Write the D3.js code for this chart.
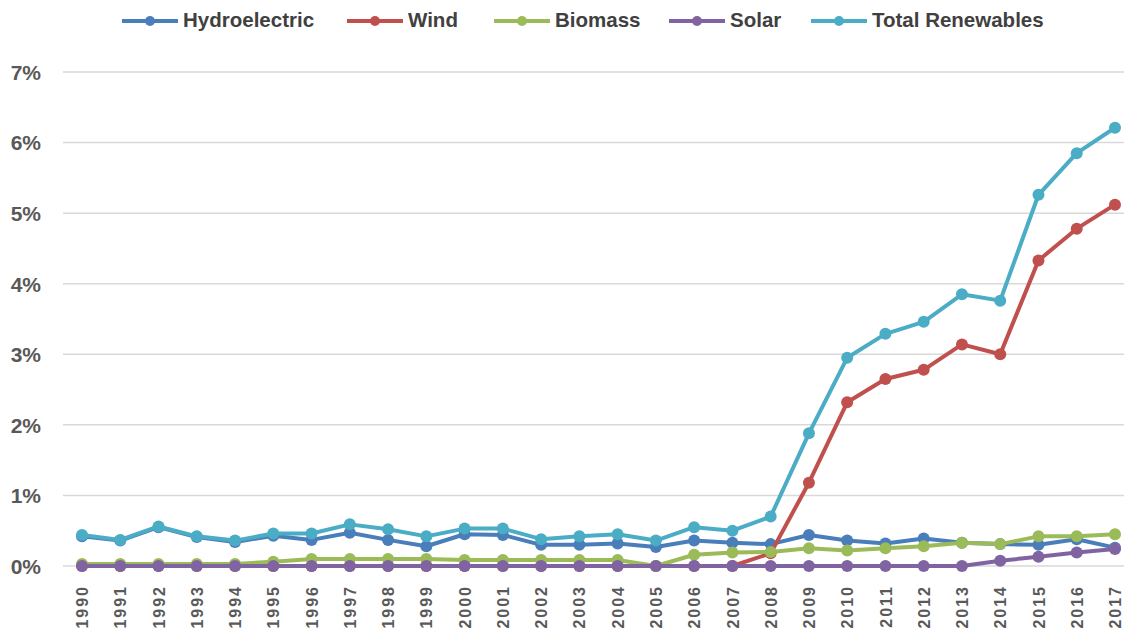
<!DOCTYPE html>
<html><head><meta charset="utf-8">
<script src="https://cdn.jsdelivr.net/npm/d3@7"></script>
<style>
body{margin:0;background:#fff;}
svg{display:block;}
</style></head>
<body>
<svg id="chart" width="1124" height="630"></svg>
<script>
const years = [1990,1991,1992,1993,1994,1995,1996,1997,1998,1999,2000,2001,2002,2003,2004,2005,2006,2007,2008,2009,2010,2011,2012,2013,2014,2015,2016,2017];
const hydro = [0.42,0.36,0.55,0.41,0.34,0.43,0.37,0.47,0.37,0.28,0.45,0.44,0.30,0.30,0.32,0.27,0.36,0.33,0.31,0.44,0.36,0.32,0.39,0.33,0.31,0.30,0.38,0.26];
const wind = [0,0,0,0,0,0,0,0,0,0,0,0,0,0,0,0,0,0,0.18,1.18,2.32,2.65,2.78,3.14,3.00,4.33,4.78,5.12];
const biomass = [0.03,0.03,0.03,0.03,0.03,0.06,0.10,0.10,0.10,0.10,0.085,0.085,0.085,0.085,0.085,0.0,0.16,0.19,0.20,0.25,0.22,0.25,0.28,0.33,0.31,0.42,0.42,0.45];
const solar = [0,0,0,0,0,0,0,0,0,0,0,0,0,0,0,0,0,0,0,0,0,0,0,0,0.075,0.13,0.19,0.24];
const total = [0.44,0.37,0.56,0.42,0.36,0.46,0.46,0.59,0.52,0.42,0.53,0.53,0.38,0.42,0.45,0.36,0.55,0.50,0.70,1.88,2.95,3.29,3.46,3.85,3.76,5.26,5.85,6.21];
const seriesNames = ["Hydroelectric","Wind","Biomass","Solar","Total Renewables"];
const seriesColors = ["#4a7ebb","#c0504d","#9bbb59","#8064a2","#4bacc6"];
const yTicks = [0,1,2,3,4,5,6,7];

const seriesData = [hydro, wind, biomass, solar, total];
const svg = d3.select("#chart");
const narrow = "'Liberation Sans Narrow','Liberation Sans',sans-serif";

const x = d3.scalePoint().domain(years).range([82, 1115]);
const y = d3.scaleLinear().domain([0, 7]).range([566, 72]);

// gridlines
svg.append("g").selectAll("line").data(yTicks).join("line")
  .attr("x1", 63).attr("x2", 1124)
  .attr("y1", d => y(d)).attr("y2", d => y(d))
  .attr("stroke", "#d9d9d9").attr("stroke-width", 1.5);

// y axis labels
const yAxis = d3.axisLeft(y).tickValues(yTicks).tickFormat(d => d + "%").tickSize(0).tickPadding(0);
const yg = svg.append("g").attr("transform", "translate(41,0)").call(yAxis);
yg.select(".domain").remove();
yg.selectAll("text").attr("font-family", narrow)
  .attr("font-size", 21).attr("font-weight", "bold").attr("fill", "#595959").attr("dy", "0.35em");

// x axis labels
const xAxis = d3.axisBottom(x).tickSize(0).tickPadding(0);
const xg = svg.append("g").attr("transform", "translate(0,585)").call(xAxis);
xg.select(".domain").remove();
xg.selectAll("text")
  .attr("font-family", "'Liberation Sans',sans-serif")
  .attr("font-size", 16).attr("font-weight", "bold").attr("fill", "#595959")
  .attr("letter-spacing", "2px")
  .attr("transform", "rotate(-90)")
  .attr("text-anchor", "end").attr("x", 0).attr("y", 0).attr("dy", "0.35em");

// lines
const line = d3.line().x((d, i) => x(years[i])).y(d => y(d));
seriesData.forEach((s, k) => {
  const g = svg.append("g");
  g.append("path").datum(s).attr("d", line).attr("fill", "none")
    .attr("stroke", seriesColors[k]).attr("stroke-width", 4).attr("stroke-linejoin", "round");
  g.selectAll("circle").data(s).join("circle")
    .attr("cx", (d, i) => x(years[i])).attr("cy", d => y(d)).attr("r", 6)
    .attr("fill", seriesColors[k]);
});

// legend
const legendX = [122, 347, 494, 669, 811];
const lg = svg.append("g");
seriesNames.forEach((n, k) => {
  const gx = legendX[k];
  lg.append("line").attr("x1", gx).attr("x2", gx + 56).attr("y1", 21).attr("y2", 21)
    .attr("stroke", seriesColors[k]).attr("stroke-width", 4);
  lg.append("circle").attr("cx", gx + 28).attr("cy", 21).attr("r", 5).attr("fill", seriesColors[k]);
  lg.append("text").attr("x", gx + 61).attr("y", 27)
    .attr("font-family", narrow)
    .attr("font-size", 20.5).attr("font-weight", "bold").attr("fill", "#404040").text(n);
});
</script>
</body></html>
